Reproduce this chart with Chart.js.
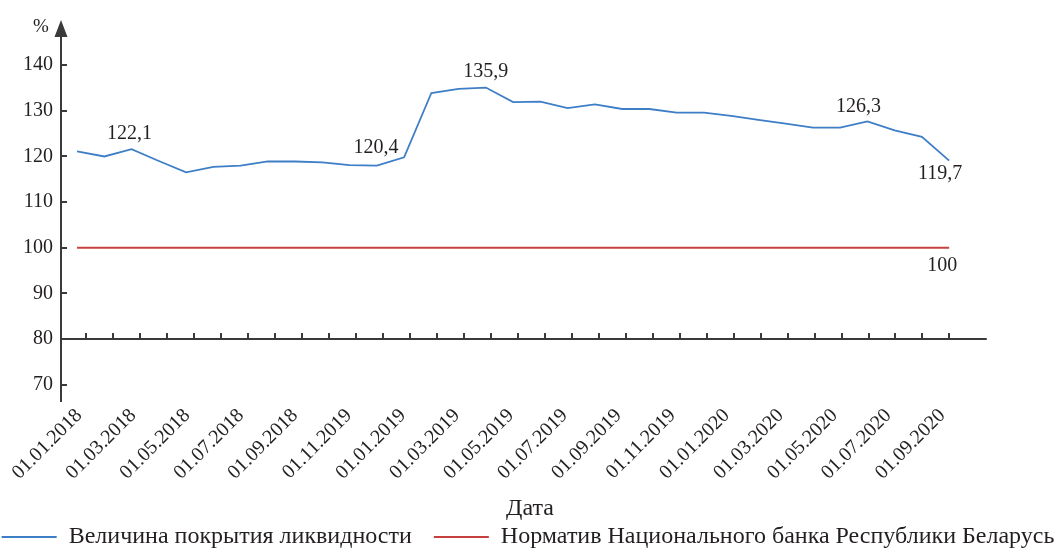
<!DOCTYPE html>
<html>
<head>
<meta charset="utf-8">
<script src="https://cdn.jsdelivr.net/npm/chart.js@4.4.1/dist/chart.umd.min.js"></script>
<style>
  html, body { margin: 0; padding: 0; background: #fff; }
</style>
</head>
<body>
<canvas id="chart" width="1056" height="549"></canvas>
<script>
// monthly dates (the 11th label is written as in the source picture)
const categories = [
    '01.01.2018', '01.02.2018', '01.03.2018', '01.04.2018', '01.05.2018', '01.06.2018',
    '01.07.2018', '01.08.2018', '01.09.2018', '01.10.2018', '01.11.2019', '01.12.2018',
    '01.01.2019', '01.02.2019', '01.03.2019', '01.04.2019', '01.05.2019', '01.06.2019',
    '01.07.2019', '01.08.2019', '01.09.2019', '01.10.2019', '01.11.2019', '01.12.2019',
    '01.01.2020', '01.02.2020', '01.03.2020', '01.04.2020', '01.05.2020', '01.06.2020',
    '01.07.2020', '01.08.2020', '01.09.2020'
];
const coverage = [
    121.1, 120.0, 121.6, 119.0, 116.5, 117.7, 118.0, 118.9, 118.9, 118.7, 118.1,
    118.0, 119.8, 133.9, 134.8, 135.1, 131.9, 132.0, 130.6, 131.4, 130.4, 130.4,
    129.6, 129.6, 128.9, 128.0, 127.2, 126.3, 126.3, 127.7, 125.7, 124.3, 119.1
];
const norm = categories.map(() => 100);
const seriesNames = ['Величина покрытия ликвидности', 'Норматив Национального банка Республики Беларусь'];
const yTicks = [70, 80, 90, 100, 110, 120, 130, 140];
const tickLabels = categories.filter((c, i) => i % 2 === 0);

// value labels written on the chart
const coverageNoteIdx = [2, 12, 15, 29, 32];
const coverageNoteText = ['122,1', '120,4', '135,9', '126,3', '119,7'];
const normNoteIdx = [32];
const normNoteText = ['100'];

// layout / style
const BLUE = '#3d7ec6';
const RED = '#c6403d';
const AXIS = '#3a3a3a';
const TEXT = '#231f20';
const SERIF = '"Liberation Serif", "Times New Roman", serif';
const TICK0 = 0.33;      // tick marks of the category axis sit slightly off the points
const TICKSTEP = 0.99;
const X_AXIS_END = 33.38;
const noteOffsets = [[-2, -15], [-28, -10], [0, -16], [-9, -15], [-9, 13]];
const normNoteOffsets = [[-7, 18]];

const axisPlugin = {
    id: 'axisPlugin',
    afterDraw(chart) {
        const { ctx, chartArea, scales: { x, y } } = chart;
        const x0 = chartArea.left;
        const y80 = y.getPixelForValue(80);
        ctx.save();
        ctx.strokeStyle = AXIS;
        ctx.fillStyle = AXIS;
        ctx.lineWidth = 2;

        // vertical axis with arrow
        ctx.beginPath();
        ctx.moveTo(x0, chartArea.top + 12);
        ctx.lineTo(x0, chartArea.bottom);
        yTicks.forEach(v => {
            const py = Math.round(y.getPixelForValue(v));
            ctx.moveTo(x0, py);
            ctx.lineTo(x0 + 6, py);
        });
        // horizontal axis at 80
        ctx.moveTo(x0, y80);
        ctx.lineTo(x.getPixelForValue(X_AXIS_END), y80);
        for (let k = 0; k < categories.length; k++) {
            const px = Math.round(x.getPixelForValue(TICK0 + k * TICKSTEP));
            ctx.moveTo(px, y80);
            ctx.lineTo(px, y80 - 6);
        }
        ctx.stroke();

        ctx.beginPath();
        ctx.moveTo(x0, chartArea.top);
        ctx.lineTo(x0 - 6.5, chartArea.top + 17);
        ctx.lineTo(x0 + 6.5, chartArea.top + 17);
        ctx.closePath();
        ctx.fill();

        // texts
        ctx.fillStyle = TEXT;
        ctx.textAlign = 'center';
        ctx.textBaseline = 'middle';
        ctx.font = '19px ' + SERIF;
        ctx.fillText('%', x0 - 20, chartArea.top + 7);

        ctx.font = '24px ' + SERIF;
        ctx.fillText('Дата', 530, 509);

        ctx.font = '20px ' + SERIF;
        coverageNoteIdx.forEach((idx, n) => {
            const px = x.getPixelForValue(idx);
            const py = y.getPixelForValue(coverage[idx]);
            ctx.fillText(coverageNoteText[n], px + noteOffsets[n][0], py + noteOffsets[n][1]);
        });
        normNoteIdx.forEach((idx, n) => {
            const px = x.getPixelForValue(idx);
            const py = y.getPixelForValue(norm[idx]);
            ctx.fillText(normNoteText[n], px + normNoteOffsets[n][0], py + normNoteOffsets[n][1]);
        });
        ctx.restore();
    }
};

const chart = new Chart(document.getElementById('chart'), {
    type: 'line',
    data: {
        datasets: [
            {
                label: seriesNames[0] + '  ',
                data: coverage.map((v, i) => ({ x: i, y: v })),
                borderColor: BLUE,
                backgroundColor: BLUE,
                borderWidth: 1.8,
                pointRadius: 0,
                tension: 0
            },
            {
                label: seriesNames[1],
                data: norm.map((v, i) => ({ x: i, y: v })),
                borderColor: RED,
                backgroundColor: RED,
                borderWidth: 1.8,
                pointRadius: 0,
                tension: 0
            }
        ]
    },
    options: {
        responsive: false,
        animation: false,
        // negative side padding lets the wide legend stay on one line
        layout: { padding: { top: 15, right: -15, left: -15, bottom: -10 } },
        plugins: {
            legend: {
                position: 'bottom',
                labels: {
                    usePointStyle: true,
                    pointStyle: 'line',
                    pointStyleWidth: 55,
                    padding: 10,
                    color: TEXT,
                    font: { family: SERIF, size: 24 }
                }
            },
            tooltip: { enabled: false }
        },
        scales: {
            x: {
                type: 'linear',
                min: -0.59,
                max: 35.92,
                grid: { display: false, drawTicks: false },
                border: { display: false },
                afterBuildTicks: axis => {
                    axis.ticks = tickLabels.map((t, n) => ({ value: TICK0 + 2 * n * TICKSTEP }));
                },
                ticks: {
                    autoSkip: false,
                    minRotation: 45,
                    maxRotation: 45,
                    padding: 2,
                    labelOffset: -7,
                    color: TEXT,
                    font: { family: SERIF, size: 20 },
                    callback: (value, index) => tickLabels[index]
                },
                afterFit: scale => { scale.height = 113; }
            },
            y: {
                min: 66.2,
                max: 149.9,
                grid: { display: false, drawTicks: false },
                border: { display: false },
                afterBuildTicks: axis => {
                    axis.ticks = yTicks.map(v => ({ value: v }));
                },
                ticks: {
                    padding: 8,
                    color: TEXT,
                    font: { family: SERIF, size: 20 }
                },
                afterFit: scale => { scale.width = 76; }
            }
        }
    },
    plugins: [axisPlugin]
});
</script>
</body>
</html>
